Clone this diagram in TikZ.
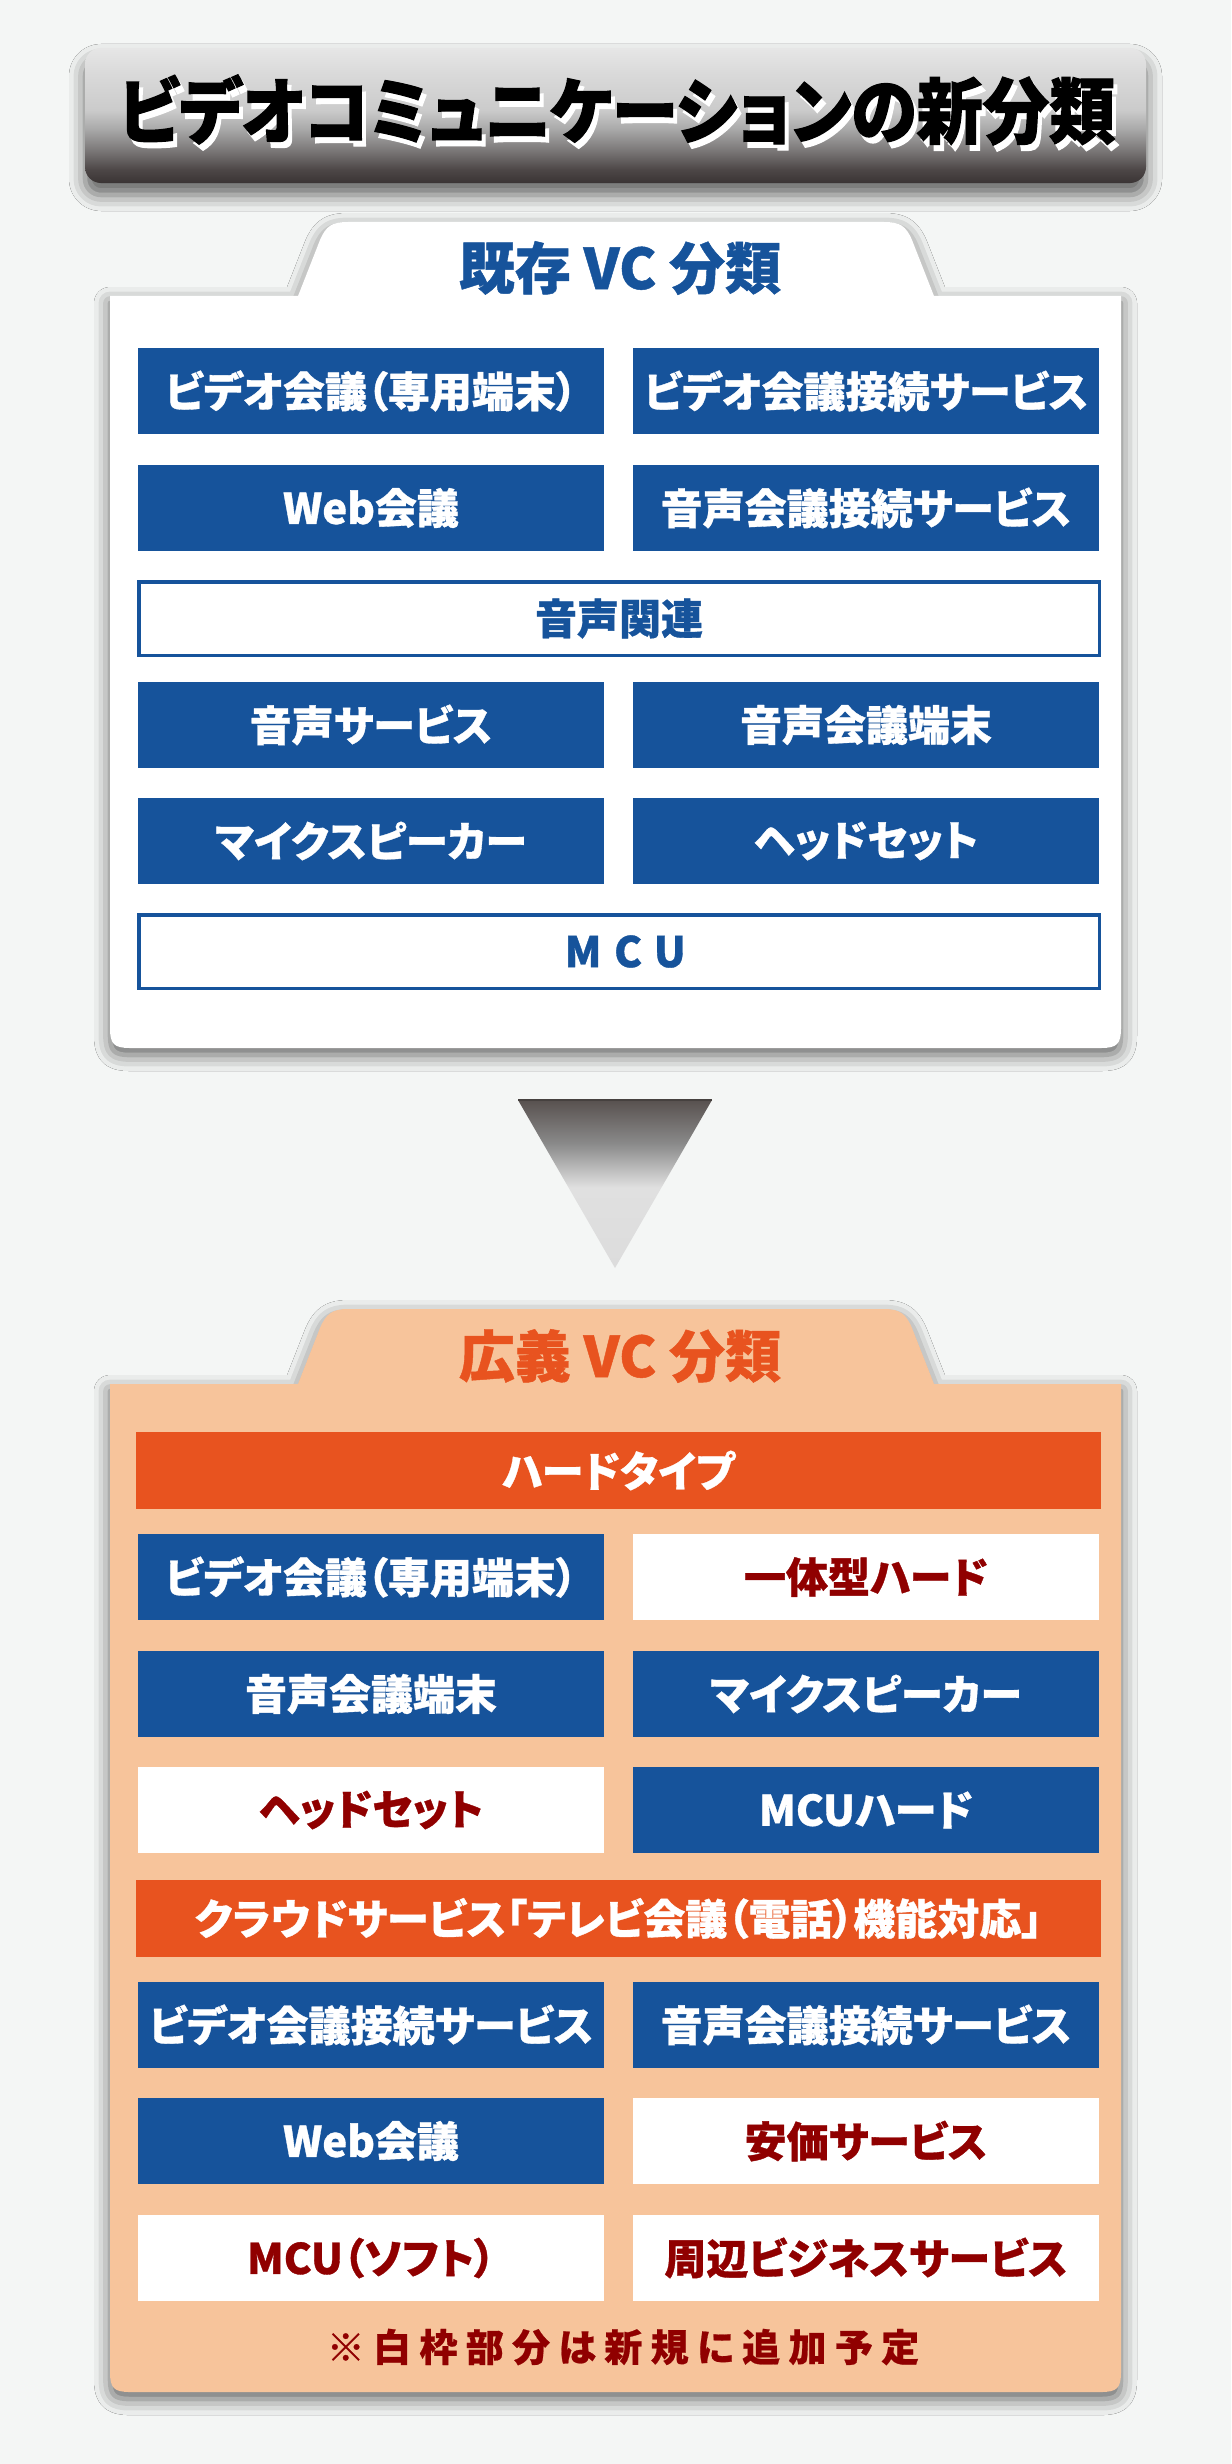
\documentclass[tikz,border=0pt]{standalone}
\usepackage{fontspec}
\newfontfamily\jp{Noto Sans CJK JP}[RawFeature={+palt}]
\usetikzlibrary{shadows.blur}
\definecolor{vcblue}{HTML}{16539B}
\definecolor{vcorange}{HTML}{E8531F}
\definecolor{peach}{HTML}{F7C49B}
\definecolor{darkred}{HTML}{900000}
\definecolor{bgcol}{HTML}{F4F6F5}
\definecolor{tbA}{HTML}{3A3434}
\definecolor{tbB}{HTML}{4D4747}
\definecolor{tbC}{HTML}{7A7777}
\definecolor{tbD}{HTML}{A9A9A9}
\definecolor{tbE}{HTML}{CBCBCB}
\definecolor{tbF}{HTML}{D9D9D9}
\definecolor{tbG}{HTML}{E6E6E6}
\definecolor{trA}{HTML}{58514F}
\definecolor{trB}{HTML}{8A8A8A}
\definecolor{trC}{HTML}{E0E0E0}
\definecolor{trD}{HTML}{DCDCDC}
\pgfdeclareverticalshading{titlebar}{100bp}{color(0bp)=(tbA); color(25bp)=(tbA); color(30bp)=(tbB); color(37bp)=(tbC); color(45bp)=(tbD); color(52bp)=(tbE); color(65bp)=(tbF); color(75bp)=(tbG); color(100bp)=(tbG)}
\pgfdeclareverticalshading{arrowgrad}{100bp}{color(0bp)=(trD); color(25bp)=(trD); color(49bp)=(trC); color(62bp)=(trB); color(75bp)=(trA); color(100bp)=(trA)}
\newcommand{\vcTitleFont}{\jp\bfseries\fontsize{72pt}{80pt}\selectfont\addfontfeature{FakeStretch=0.92,FakeBold=1.6}}
\newcommand{\vcHeadFont}{\jp\bfseries\fontsize{56pt}{62pt}\selectfont\addfontfeature{FakeBold=0.8}}
\newcommand{\vcBoxFont}{\jp\bfseries\fontsize{42pt}{48pt}\selectfont\addfontfeature{FakeBold=0.8}}
\newcommand{\vcNoteFont}{\jp\bfseries\fontsize{38pt}{44pt}\selectfont\addfontfeature{LetterSpace=22,FakeBold=0.6}}
\begin{document}
\begin{tikzpicture}[x=1pt,y=-1pt,
  panelshadow/.style={blur shadow={shadow xshift=0pt, shadow yshift=-7pt, shadow blur radius=16pt, shadow opacity=60}},
  cell/.style={minimum width=466pt, minimum height=86pt, inner sep=0pt, font=\vcBoxFont},
  bluebox/.style={cell, fill=vcblue, text=white},
  whitebox/.style={cell, fill=white, text=darkred},
  outbox/.style={minimum width=960.5pt, minimum height=73.5pt, inner sep=0pt, draw=vcblue, line width=3.5pt, fill=white, text=vcblue, font=\vcBoxFont},
  orangebar/.style={minimum width=965pt, minimum height=77pt, inner sep=0pt, fill=vcorange, text=white, font=\vcBoxFont},
  titletxt/.style={inner sep=0pt, font=\vcTitleFont},
  headtxt/.style={inner sep=0pt, font=\vcHeadFont},
  notetxt/.style={inner sep=0pt, font=\vcNoteFont, text=darkred}]
\fill[bgcol] (0,0) rectangle (1231,2464);
\useasboundingbox (0,0) rectangle (1231,2464);
% title bar
\shade[shading=titlebar, rounded corners=16pt, blur shadow={shadow xshift=0pt, shadow yshift=-12pt, shadow blur radius=16pt, shadow opacity=60}] (85,48) rectangle (1146,183);
\node[titletxt, text=white] (titleshadow) at (621,116) {ビデオコミュニケーションの新分類};
\node[titletxt, text=black] (title) at (617,110) {ビデオコミュニケーションの新分類};
% panel 1
\fill[white, panelshadow] (110,296) -- (298,296) -- (320,240) .. controls (326,226) and (332,222) .. (348,222) -- (884,222) .. controls (900,222) and (906,226) .. (912,240) -- (934,296) -- (1121,296) -- (1121,1028) .. controls (1121,1044) and (1117,1048) .. (1101,1048) -- (130,1048) .. controls (114,1048) and (110,1044) .. (110,1028) -- cycle;
\node[headtxt, text=vcblue] (p1title) at (620,268) {既存 VC 分類};
\node[bluebox] (a1) at (371,391) {ビデオ会議（専用端末）};
\node[bluebox] (a2) at (866,391) {ビデオ会議接続サービス};
\node[bluebox] (a3) at (371,508) {Web会議};
\node[bluebox] (a4) at (866,508) {音声会議接続サービス};
\node[outbox] (a5) at (619,618.5) {音声関連};
\node[bluebox] (a6) at (371,725) {音声サービス};
\node[bluebox] (a7) at (866,725) {音声会議端末};
\node[bluebox] (a8) at (371,841) {マイクスピーカー};
\node[bluebox] (a9) at (866,841) {ヘッドセット};
\node[outbox, font=\vcBoxFont\addfontfeature{LetterSpace=30}] (a10) at (619,951.5) {\hspace*{12.6pt}MCU};
% arrow
\shade[shading=arrowgrad] (518,1100) -- (712,1100) -- (615,1268) -- cycle;
\draw[color=trA!80!black, line width=1.5pt] (518,1100) -- (712,1100);
% panel 2
\fill[peach, panelshadow] (110,1384) -- (298,1384) -- (320,1328) .. controls (326,1314) and (332,1309) .. (348,1309) -- (884,1309) .. controls (900,1309) and (906,1314) .. (912,1328) -- (934,1384) -- (1121,1384) -- (1121,2372) .. controls (1121,2388) and (1117,2392) .. (1101,2392) -- (130,2392) .. controls (114,2392) and (110,2388) .. (110,2372) -- cycle;
\node[headtxt, text=vcorange] (p2title) at (620,1356) {広義 VC 分類};
\node[orangebar] (b0) at (618.5,1470.5) {ハードタイプ};
\node[bluebox] (b1) at (371,1577) {ビデオ会議（専用端末）};
\node[whitebox] (b2) at (866,1577) {一体型ハード};
\node[bluebox] (b3) at (371,1694) {音声会議端末};
\node[bluebox] (b4) at (866,1694) {マイクスピーカー};
\node[whitebox] (b5) at (371,1810) {ヘッドセット};
\node[bluebox] (b6) at (866,1810) {MCUハード};
\node[orangebar] (b7) at (618.5,1918.5) {クラウドサービス「テレビ会議（電話）機能対応」};
\node[bluebox] (b8) at (371,2025) {ビデオ会議接続サービス};
\node[bluebox] (b9) at (866,2025) {音声会議接続サービス};
\node[bluebox] (b10) at (371,2141) {Web会議};
\node[whitebox] (b11) at (866,2141) {安価サービス};
\node[whitebox] (b12) at (371,2258) {MCU（ソフト）};
\node[whitebox] (b13) at (866,2258) {周辺ビジネスサービス};
\node[notetxt] (note) at (623,2347) {※白枠部分は新規に追加予定};
\end{tikzpicture}
\end{document}
